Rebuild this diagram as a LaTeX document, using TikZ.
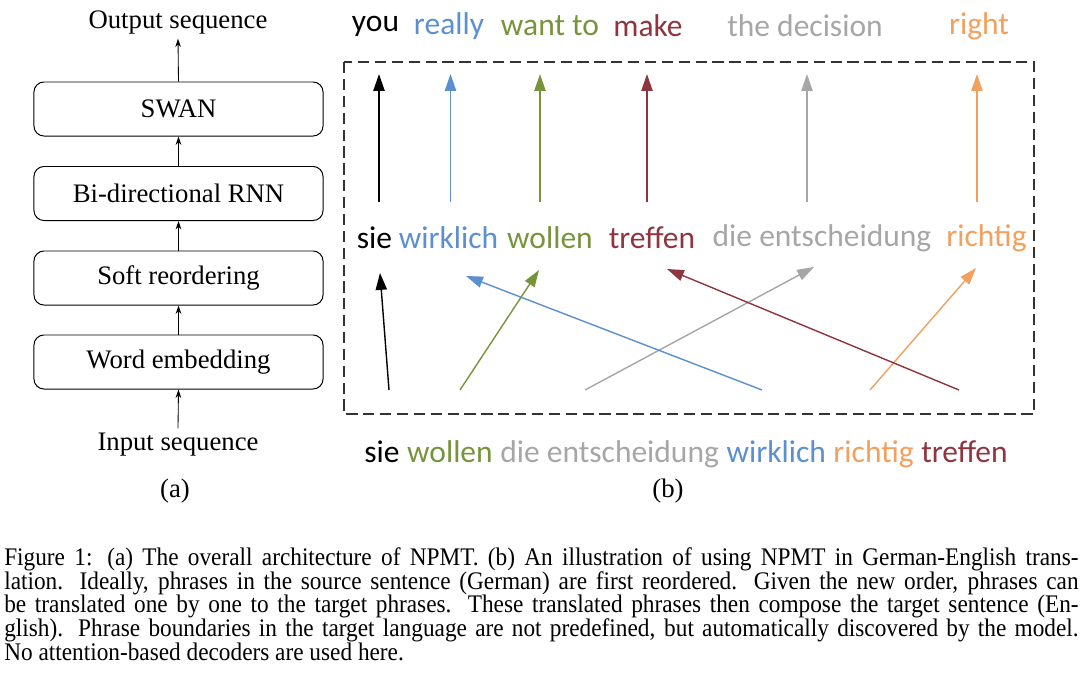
\documentclass[tikz,border=0pt]{standalone}
\usepackage{fontspec}
\setmainfont{Liberation Serif}
\newfontfamily\calibri{Carlito}
\newfontfamily\capfont[FakeStretch=0.92]{Liberation Serif}
\usetikzlibrary{arrows.meta,positioning}
\definecolor{wblue}{HTML}{5B8FD0}
\definecolor{wgreen}{HTML}{77933C}
\definecolor{wred}{HTML}{8E3540}
\definecolor{wgray}{HTML}{A6A6A6}
\definecolor{worange}{HTML}{F2A05E}

\begin{document}
\begin{tikzpicture}[x=0.025cm,y=-0.025cm,
  layer/.style={draw,rounded corners=0.25cm,minimum width=7.225cm,
    minimum height=1.35cm,line width=0.7pt,font=\fontsize{19}{22}\selectfont},
  lbl/.style={font=\fontsize{19}{22}\selectfont},
  word/.style={font=\calibri\fontsize{22.4}{26}\selectfont,inner sep=0pt},
  up/.style={-{Stealth[length=6pt,width=4pt]},line width=0.6pt},
  trans/.style={-{Triangle[length=12pt,width=8pt]},line width=1pt},
  node distance=5pt]

 \useasboundingbox (0,0) rectangle (1080,680);

 % (a) architecture
 \node[layer] (swan) at (178.5,109) {SWAN};
 \node[layer] (rnn) at (178.5,193.5) {Bi-directional RNN};
 \node[layer] (soft) at (178.5,278) {Soft reordering};
 \node[layer] (emb) at (178.5,362) {Word embedding};
 \node[lbl] (out) at (178,22) {Output sequence};
 \node[lbl] (in) at (178,445) {Input sequence};
 \node[lbl] (la) at (175,491) {(a)};
 \draw[up] (in.north) -- (emb.south);
 \draw[up] (emb) -- (soft);
 \draw[up] (soft) -- (rnn);
 \draw[up] (rnn) -- (swan);
 \draw[up] (swan.north) -- (out.south);

 % (b) translation
 \draw[dashed,dash pattern=on 8pt off 4pt,line width=0.9pt,draw=black!80]
   (344,62) rectangle (1034,414);

 \node[word] (t1) at (375.5,26) {you};
 \node[word,text=wblue] (t2) at (449,26) {really};
 \node[word,text=wgreen] (t3) at (550,26) {want to};
 \node[word,text=wred] (t4) at (648,26) {make};
 \node[word,text=wgray] (t5) at (805,26) {the decision};
 \node[word,text=worange] (t6) at (979,26) {right};

 \node[word] (m1) at (374.5,238) {sie};
 \node[word,text=wblue] (m2) at (448.5,238) {wirklich};
 \node[word,text=wgreen] (m3) at (550,238) {wollen};
 \node[word,text=wred] (m4) at (652,238) {treffen};
 \node[word,text=wgray] (m5) at (822,238) {die entscheidung};
 \node[word,text=worange] (m6) at (986.5,238) {richtig};

 \node[word] (b1) at (382,452) {sie};
 \node[word,text=wgreen,base right=of b1] (b2) {wollen};
 \node[word,text=wgray,base right=of b2] (b3) {die entscheidung};
 \node[word,text=wblue,base right=of b3] (b4) {wirklich};
 \node[word,text=worange,base right=of b4] (b5) {richtig};
 \node[word,text=wred,base right=of b5] (b6) {treffen};
 \node[lbl] (lb) at (668,491) {(b)};

 % phrase translation
 \coordinate (u1) at (379,202); \coordinate (v1) at (379,74);
 \coordinate (u2) at (450.5,202); \coordinate (v2) at (450.5,74);
 \coordinate (u3) at (540,202); \coordinate (v3) at (540,74);
 \coordinate (u4) at (647,202); \coordinate (v4) at (647,74);
 \coordinate (u5) at (807,202); \coordinate (v5) at (807,74);
 \coordinate (u6) at (977,202); \coordinate (v6) at (977,74);
 \draw[trans] (u1) -- (v1);
 \draw[trans,wblue] (u2) -- (v2);
 \draw[trans,wgreen] (u3) -- (v3);
 \draw[trans,wred] (u4) -- (v4);
 \draw[trans,wgray] (u5) -- (v5);
 \draw[trans,worange] (u6) -- (v6);

 % soft reordering
 \coordinate (r1) at (389,390); \coordinate (s1) at (380,273);
 \coordinate (r2) at (460,390); \coordinate (s2) at (539,270);
 \coordinate (r3) at (585,390); \coordinate (s3) at (814,267);
 \coordinate (r4) at (762,390); \coordinate (s4) at (466,276);
 \coordinate (r5) at (870,390); \coordinate (s5) at (976,268);
 \coordinate (r6) at (959,390); \coordinate (s6) at (667,269);
 \draw[trans] (r1) -- (s1);
 \draw[trans,wgreen] (r2) -- (s2);
 \draw[trans,wgray] (r3) -- (s3);
 \draw[trans,wblue] (r4) -- (s4);
 \draw[trans,worange] (r5) -- (s5);
 \draw[trans,wred] (r6) -- (s6);

 % caption
 \node[anchor=north west,inner sep=0pt,text width=26.85cm,align=justify,
   font=\capfont\fontsize{18}{17}\selectfont] (cap) at (4,547)
  {Figure 1: (a) The overall architecture of NPMT. (b) An illustration of using NPMT in German-English trans-\linebreak
   lation. Ideally, phrases in the source sentence (German) are first reordered. Given the new order, phrases can\linebreak
   be translated one by one to the target phrases. These translated phrases then compose the target sentence (En-\linebreak
   glish). Phrase boundaries in the target language are not predefined, but automatically discovered by the model.\linebreak
   No attention-based decoders are used here.};
\end{tikzpicture}
\end{document}
